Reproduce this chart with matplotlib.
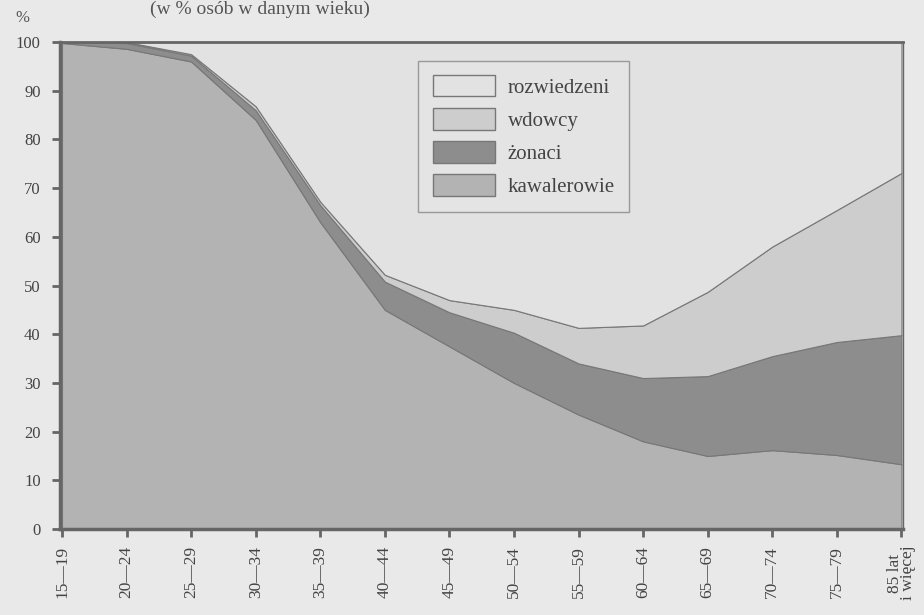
import matplotlib
matplotlib.use("Agg")
import matplotlib.pyplot as plt
import numpy as np
from matplotlib.patches import Patch

plt.rcParams['font.family'] = ['Liberation Serif', 'DejaVu Serif']

categories = ["15—19", "20—24", "25—29", "30—34", "35—39", "40—44", "45—49",
              "50—54", "55—59", "60—64", "65—69", "70—74", "75—79", "85 lat\ni więcej"]

kawalerowie = [99.8, 98.6, 96.0, 84.0, 63.0, 45.0, 37.5, 30.0, 23.5, 18.0, 15.0, 16.2, 15.2, 13.3]
zonaci_top = [100.0, 99.8, 97.2, 86.0, 66.5, 50.8, 44.5, 40.3, 34.0, 31.0, 31.4, 35.5, 38.4, 39.8]
wdowcy_top = [100.0, 100.0, 97.5, 86.8, 67.2, 52.2, 47.0, 45.0, 41.3, 41.8, 48.7, 58.0, 65.5, 73.1]

kaw = np.array(kawalerowie)
zon = np.array(zonaci_top) - kaw
wdo = np.array(wdowcy_top) - np.array(zonaci_top)
roz = 100.0 - np.array(wdowcy_top)

c_kaw = "#b3b3b3"
c_zon = "#8d8d8d"
c_wdo = "#cdcdcd"
c_roz = "#e2e2e2"
bg = "#e9e9e9"

fig = plt.figure(figsize=(9.24, 6.15), dpi=100, facecolor=bg)
ax = fig.add_axes([0.065, 0.1398, 0.912, 0.7919])
ax.set_facecolor(bg)

x = np.arange(len(categories))
ax.stackplot(x, kaw, zon, wdo, roz, colors=[c_kaw, c_zon, c_wdo, c_roz],
             edgecolor="#777777", linewidth=0.8)

ax.set_xlim(-0.03, 13.02)
ax.set_ylim(0, 100)
ax.set_yticks(np.arange(0, 101, 10))
ax.set_yticklabels([str(v) for v in range(0, 101, 10)], fontsize=12, color="#444444")
ax.set_xticks(x)
ax.set_xticklabels(categories, rotation=90, fontsize=12.5, color="#444444", linespacing=0.8)

for s in ax.spines.values():
    s.set_color("#666666")
ax.spines['left'].set_linewidth(2.5)
ax.spines['bottom'].set_linewidth(2.5)
ax.spines['top'].set_linewidth(2.0)
ax.spines['right'].set_linewidth(1.0)
ax.tick_params(axis='y', direction='out', length=6, width=2, color="#666666", pad=8)
ax.tick_params(axis='x', direction='out', length=6, width=2, color="#666666", pad=6)

handles = [Patch(facecolor=c_roz, edgecolor="#777777", label="rozwiedzeni"),
           Patch(facecolor=c_wdo, edgecolor="#777777", label="wdowcy"),
           Patch(facecolor=c_zon, edgecolor="#777777", label="żonaci"),
           Patch(facecolor=c_kaw, edgecolor="#777777", label="kawalerowie")]
leg = ax.legend(handles=handles, loc="upper left", bbox_to_anchor=(0.425, 0.962),
                fontsize=15, frameon=True, fancybox=False, edgecolor="#999999",
                facecolor="#e4e4e4", framealpha=1, handlelength=3.0, handleheight=1.2,
                handletextpad=0.6, labelspacing=0.5, borderpad=0.7, borderaxespad=0)
for t in leg.get_texts():
    t.set_color("#444444")

fig.text(22 / 924, 1 - 18 / 615, "%", fontsize=12, color="#555555", ha="center", va="center")
fig.text(150 / 924, 1 - 1 / 615, "(w % osób w danym wieku)", fontsize=14, color="#555555",
         ha="left", va="top")

fig.savefig("out.png", dpi=100, facecolor=bg)
